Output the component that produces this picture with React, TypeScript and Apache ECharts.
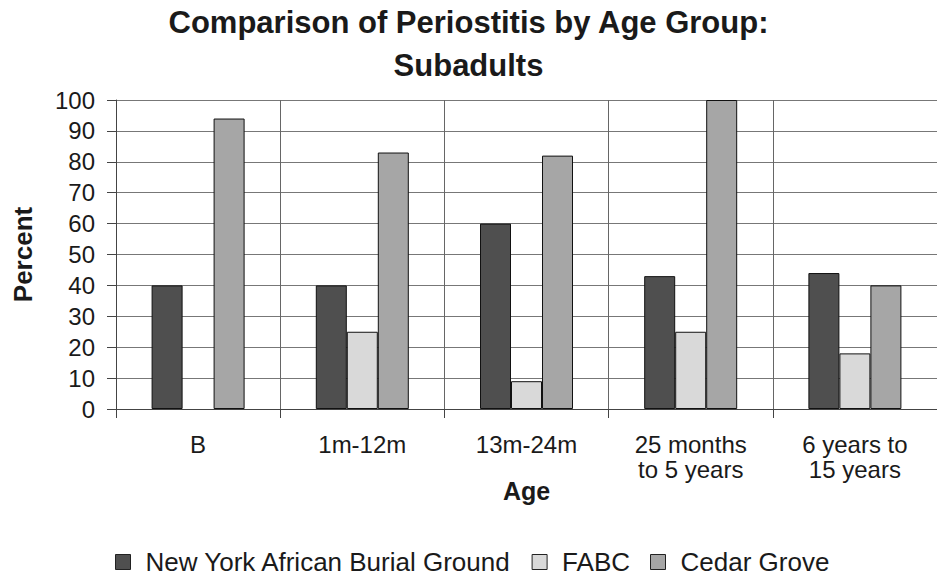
import React, { useEffect, useRef } from "react";
import * as echarts from "echarts";

const categories = ["B", "1m-12m", "13m-24m", "25 months\nto 5 years", "6 years to\n15 years"];
const seriesNames = ["New York African Burial Ground", "FABC", "Cedar Grove"];
const nyabg = [40, 40, 60, 43, 44];
const fabc = [null, 25, 9, 25, 18];
const cedarGrove = [94, 83, 82, 100, 40];
const yTicks = [0, 100, 10];
const colors = ["#4f4f4f", "#d9d9d9", "#a6a6a6"];

const FONT = "'Liberation Sans', Arial, sans-serif";

export default function App() {
  const ref = useRef<HTMLDivElement>(null);
  useEffect(() => {
    if (!ref.current) return;
    const chart = echarts.init(ref.current, null, { renderer: "svg" });
    const values = [nyabg, fabc, cedarGrove];
    chart.setOption({
      animation: false,
      backgroundColor: "#ffffff",
      textStyle: { fontFamily: FONT, color: "#1a1a1a" },
      title: {
        text: "Comparison of Periostitis by Age Group:\nSubadults",
        left: "center",
        top: 0,
        padding: [1, 17, 0, 0],
        textStyle: {
          fontFamily: FONT,
          fontSize: 31,
          fontWeight: "bold",
          color: "#1a1a1a",
          lineHeight: 43,
        },
      },
      legend: {
        data: seriesNames,
        left: 115,
        top: 549,
        padding: 0,
        itemWidth: 15,
        itemHeight: 15,
        itemGap: 20,
        icon: "rect",
        itemStyle: { borderColor: "#222", borderWidth: 1 },
        textStyle: { fontFamily: FONT, fontSize: 26, color: "#1a1a1a", padding: [0, 0, 0, 10] },
      },
      grid: { left: 116, right: -9, top: 100, bottom: 170, containLabel: false },
      xAxis: {
        type: "category",
        data: categories,
        name: "Age",
        nameLocation: "middle",
        nameGap: 69,
        nameMoveOverlap: false,
        nameTextStyle: { fontFamily: FONT, fontSize: 25, fontWeight: "bold", color: "#1a1a1a" },
        axisLine: { show: true, lineStyle: { color: "#444", width: 1 } },
        axisTick: { show: true, length: 9, lineStyle: { color: "#444" } },
        splitLine: { show: true, lineStyle: { color: "#666", width: 1 } },
        axisLabel: {
          fontFamily: FONT,
          fontSize: 24,
          lineHeight: 25,
          color: "#1a1a1a",
          margin: 23,
          interval: 0,
        },
      },
      yAxis: {
        type: "value",
        min: yTicks[0],
        max: yTicks[1],
        interval: yTicks[2],
        name: "Percent",
        nameLocation: "middle",
        nameGap: 80,
        nameMoveOverlap: false,
        nameTextStyle: { fontFamily: FONT, fontSize: 26, fontWeight: "bold", color: "#1a1a1a" },
        axisLine: { show: true, lineStyle: { color: "#444", width: 1 } },
        axisTick: { show: true, length: 9, lineStyle: { color: "#444" } },
        splitLine: { show: true, lineStyle: { color: "#777", width: 1 } },
        axisLabel: { fontFamily: FONT, fontSize: 24, color: "#1a1a1a", margin: 21 },
      },
      series: seriesNames.map((name, i) => ({
        name,
        type: "bar",
        data: values[i],
        barWidth: 31,
        barGap: "0%",
        itemStyle: { color: colors[i], borderColor: "#111", borderWidth: 1 },
      })),
    });
    return () => chart.dispose();
  }, []);
  return <div ref={ref} style={{ width: 937, height: 579, position: "absolute", left: 0, top: 0 }} />;
}
